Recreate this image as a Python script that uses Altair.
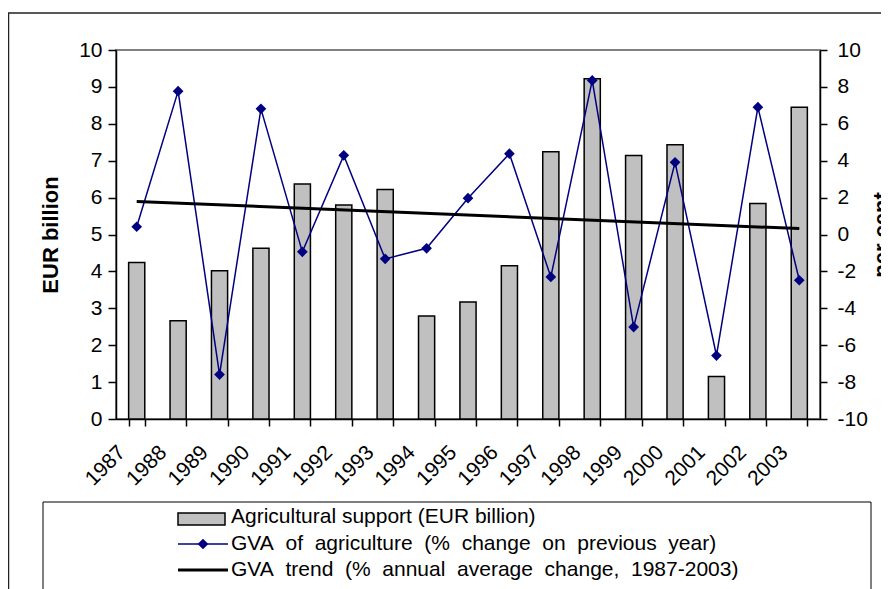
import altair as alt
import pandas as pd

years = list(range(1987, 2004))
support = [4.24, 2.66, 4.02, 4.63, 6.37, 5.80, 6.22, 2.79, 3.17, 4.15,
           7.24, 9.22, 7.14, 7.43, 1.15, 5.84, 8.45]
gva = [0.42, 7.77, -7.59, 6.81, -0.94, 4.29, -1.32, -0.75, 1.97, 4.38,
       -2.30, 8.35, -5.02, 3.91, -6.56, 6.90, -2.48]
trend_years = [1987, 2003]
trend_vals = [1.79, 0.32]
left_ticks = list(range(0, 11))
right_ticks = list(range(-10, 11, 2))
legend_labels = [
    "Agricultural support (EUR billion)",
    "GVA of agriculture (% change on previous year)",
    "GVA trend (% annual average change, 1987-2003)",
]
legend_wide = [False, True, True]  # rows 2 and 3 use wide word spacing in the reference

FONT = "Liberation Sans"
WIDE = "\u00a0 "

bars_df = pd.DataFrame({"year": years, "support": support})
gva_df = pd.DataFrame({"year": years, "pct": gva})
trend_df = pd.DataFrame({"year": trend_years, "pct": trend_vals})
one = pd.DataFrame({"a": [0]})

xaxis = alt.Axis(
    title=None, labelAngle=315, labelAlign="right", labelBaseline="middle",
    labelOffset=-15, labelPadding=23, tickBand="extent", tickSize=7,
    tickWidth=1.5, domainWidth=1.5, domainColor="black", tickColor="black",
    labelFont=FONT, labelFontSize=21, labelColor="black", labelOverlap=False,
    labelFlush=False, grid=False,
)
xenc = alt.X("year:O", scale=alt.Scale(domain=years, paddingInner=0.61, paddingOuter=0.305), axis=xaxis)

left_axis = alt.Axis(
    orient="left", values=left_ticks, title="EUR billion", grid=False,
    titleFont=FONT, titleFontSize=22, titleFontWeight="bold", titleColor="black",
    titleX=-59, titleY=184.5, titleAngle=270, titleBaseline="alphabetic", titleAlign="center",
    tickSize=8, tickWidth=1.5, tickColor="black", domainColor="black", domainWidth=1.5,
    labelPadding=6, labelFont=FONT, labelFontSize=21, labelColor="black",
)
right_axis = alt.Axis(
    orient="right", values=right_ticks, title="per cent", grid=False,
    titleFont=FONT, titleFontSize=22, titleFontWeight="bold", titleColor="black",
    titleX=68, titleY=184.5, titleAngle=270, titleBaseline="alphabetic", titleAlign="center",
    tickSize=7, tickWidth=1.5, tickColor="black", domainColor="black", domainWidth=1.5,
    labelPadding=10, labelFont=FONT, labelFontSize=21, labelColor="black",
    labelExpr="'' + datum.value",
)

frame = alt.Chart(one).mark_rect(fill="white", fillOpacity=0, stroke="#222222", strokeWidth=1.5).encode(
    x=alt.value(-107.5), x2=alt.value(820), y=alt.value(-37), y2=alt.value(640)
)

bars = alt.Chart(bars_df).mark_bar(color="#c0c0c0", stroke="black", strokeWidth=1.5).encode(
    x=xenc,
    y=alt.Y("support:Q", scale=alt.Scale(domain=[0, 10], nice=False, zero=True), axis=left_axis),
)

yright = alt.Y("pct:Q", scale=alt.Scale(domain=[-10, 10], nice=False, zero=False), axis=right_axis)

line = alt.Chart(gva_df).mark_line(color="#000080", strokeWidth=1.5).encode(x=xenc, y=yright)
pts = alt.Chart(gva_df).mark_point(shape="diamond", filled=True, size=115, color="#000080", opacity=1).encode(x=xenc, y=yright)
trend = alt.Chart(trend_df).mark_line(color="black", strokeWidth=3).encode(x=xenc, y=yright)

right_layer = alt.layer(line, trend, pts)

legend_box = alt.Chart(one).mark_rect(fill="white", stroke="black", strokeWidth=1).encode(
    x=alt.value(-73), x2=alt.value(755), y=alt.value(452), y2=alt.value(640)
)
leg_rect = alt.Chart(one).mark_rect(fill="#c0c0c0", stroke="black", strokeWidth=1.5).encode(
    x=alt.value(62), x2=alt.value(109), y=alt.value(463), y2=alt.value(475)
)
leg_line = alt.Chart(one).mark_rule(color="#000080", strokeWidth=1.5).encode(
    x=alt.value(62), x2=alt.value(112), y=alt.value(494)
)
leg_pt = alt.Chart(one).mark_point(shape="diamond", filled=True, size=115, color="#000080", opacity=1).encode(
    x=alt.value(87), y=alt.value(494)
)
leg_trend = alt.Chart(one).mark_rule(color="black", strokeWidth=3).encode(
    x=alt.value(62), x2=alt.value(112), y=alt.value(520)
)
row_y = [467, 494, 520]
leg_texts = [
    alt.Chart(one).mark_text(align="left", baseline="middle", font=FONT, fontSize=21, color="black").encode(
        x=alt.value(115), y=alt.value(ry), text=alt.value(lab.replace(" ", WIDE) if wide else lab)
    )
    for lab, ry, wide in zip(legend_labels, row_y, legend_wide)
]

chart = alt.layer(
    frame, bars, right_layer, legend_box, leg_rect, leg_line, leg_pt, leg_trend, *leg_texts
).resolve_scale(y="independent").properties(
    width=704, height=369,
    autosize=alt.AutoSizeParams(type="none"),
    padding={"left": 108, "top": 42, "right": 61, "bottom": 170},
    background="white",
).configure_view(stroke="#808080", strokeWidth=2)

chart.save("out.html", embed_options={"renderer": "svg", "actions": False})
